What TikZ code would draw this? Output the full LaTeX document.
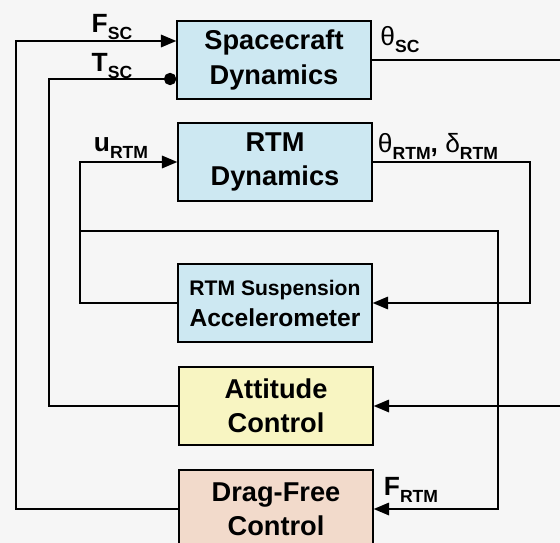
\documentclass[tikz,border=0pt]{standalone}
\usepackage{fontspec}
\setmainfont{Liberation Sans}
\usetikzlibrary{arrows,arrows.meta,positioning}

\definecolor{scblue}{HTML}{CDE8F2}
\definecolor{attyellow}{HTML}{F8F5C2}
\definecolor{dfpeach}{HTML}{F2DACB}
\definecolor{paper}{HTML}{F6F6F6}

% signal name with a lowered subscript
\newcommand{\sig}[2]{#1\raisebox{-0.5ex}{\fontsize{10}{11}\selectfont\bfseries #2}}

\begin{document}
\begin{tikzpicture}[x=0.02cm,y=-0.02cm]
                \tikzstyle{block}=[draw, line width=0.9pt, minimum width=3.88cm, minimum height=1.56cm, align=center, font=\fontsize{15.5}{19.5}\selectfont\bfseries]
                \tikzstyle{wire}=[line width=1pt]
                \tikzstyle{myarrows}=[wire, -triangle 45]
                \tikzstyle{siglabel}=[font=\fontsize{15}{17}\selectfont\bfseries, inner sep=0pt]
                
                \fill[paper] (0,0) rectangle (560,543);
                \useasboundingbox (0,0) rectangle (560,543);
                
                \node[block, fill=scblue] (sc) at (274,60) {Spacecraft\\Dynamics};
                \node[block, fill=scblue] (rtm) at (275,162) {RTM\\Dynamics};
                \node[block, fill=scblue, font=\bfseries] (susp) at (275,303) {{\fontsize{12}{14}\selectfont RTM Suspension}\\[4pt]{\fontsize{14}{17}\selectfont Accelerometer}};
                \node[block, fill=attyellow] (att) at (276,406) {Attitude\\Control};
                \node[block, fill=dfpeach] (dfc) at (276,509) {Drag-Free\\Control};
                
                \coordinate (scout) at (562,60);
                \coordinate (scin) at (562,406);
                \coordinate (tap) at (80,231);
                
                % force and torque back to the spacecraft
                \draw[myarrows] (dfc.west) -- (16,509) |- ([yshift=0.38cm]sc.west);
                \draw[wire,-{Circle[length=7pt,width=7pt]}] (att.west) -- (49,406) |- ([yshift=-0.38cm]sc.west);
                \draw[wire] (sc.east) -- (scout);
                
                % RTM loop
                \draw[myarrows] (rtm.east) -- (530,162) |- (susp.east);
                \draw[myarrows] (susp.west) -- (80,303) |- (rtm.west);
                \draw[myarrows] (tap) -- (498,231) |- (dfc.east);
                \draw[myarrows] (scin) -- (att.east);
                
                \node[siglabel] (fsc) at (112,27) {\sig{F}{SC}};
                \node[siglabel] (tsc) at (112,66) {\sig{T}{SC}};
                \node[siglabel] (thsc) at (400,40) {{\mdseries θ}\sig{}{SC}};
                \node[siglabel] (urtm) at (121,148) {\sig{u}{RTM}};
                \node[siglabel] (thrtm) at (438,146) {{\mdseries θ}\sig{}{RTM}, {\mdseries δ}\sig{}{RTM}};
                \node[siglabel] (frtm) at (411,490) {\sig{F}{RTM}};
                
                \end{tikzpicture}
\end{document}
